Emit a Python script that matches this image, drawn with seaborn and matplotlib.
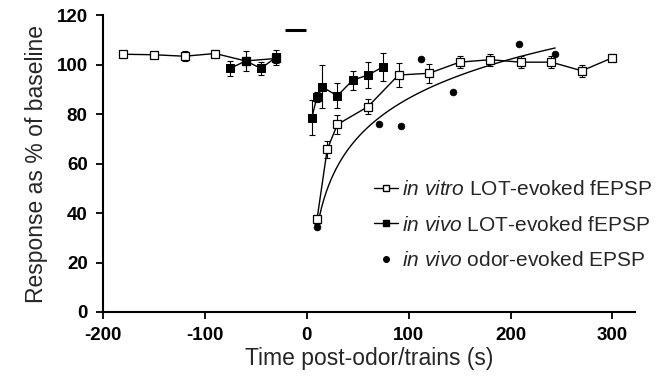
import matplotlib.pyplot as plt
import seaborn as sns
from matplotlib.lines import Line2D

# in vitro LOT-evoked fEPSP (open squares), baseline and post-train segments
vitro_pre_t = [-180, -150, -120, -90, -60, -30]
vitro_pre_r = [104.2, 104.0, 103.4, 104.5, 101.5, 102.5]
vitro_pre_e = [1.5, 1.2, 2.0, 1.5, 1.5, 2.0]
vitro_post_t = [10, 20, 30, 60, 90, 120, 150, 180, 210, 240, 270, 300]
vitro_post_r = [37.4, 65.7, 75.8, 83.0, 95.8, 96.5, 101.0, 102.0, 101.0, 101.0, 97.5, 102.8]
vitro_post_e = [2.0, 3.5, 4.0, 3.0, 5.0, 3.8, 2.5, 2.5, 2.5, 2.5, 2.5, 1.5]

# in vivo LOT-evoked fEPSP (filled squares)
vivo_pre_t = [-75, -60, -45, -30]
vivo_pre_r = [98.5, 101.5, 98.5, 103.0]
vivo_pre_e = [3.0, 4.0, 2.7, 3.0]
vivo_post_t = [5, 10, 15, 30, 45, 60, 75]
vivo_post_r = [78.6, 87.0, 91.0, 87.4, 93.7, 95.8, 99.1]
vivo_post_e = [7.0, 2.0, 8.7, 5.0, 3.8, 5.2, 5.7]

# in vivo odor-evoked EPSP (filled circles)
odor_t = [9.8, 71, 92.8, 112.4, 143.5, 207.8, 243.8]
odor_r = [34.5, 76.2, 75.3, 102.2, 89.0, 108.3, 104.5]

# odor / train stimulus bar
stim_t = [-21, -1]
stim_r = [114.2, 114.2]

labels = [r"$\mathit{in\ vitro}$ LOT-evoked fEPSP",
          r"$\mathit{in\ vivo}$ LOT-evoked fEPSP",
          r"$\mathit{in\ vivo}$ odor-evoked EPSP"]

sns.set_style("ticks")
plt.rcParams['font.family'] = ['Liberation Sans', 'DejaVu Sans']
plt.rcParams['mathtext.fontset'] = 'custom'
plt.rcParams['mathtext.rm'] = 'Liberation Sans'
plt.rcParams['mathtext.it'] = 'Liberation Sans:italic'
plt.rcParams['axes.unicode_minus'] = False

fig, ax = plt.subplots(figsize=(6.69, 3.89), dpi=100)
fig.subplots_adjust(left=0.154, right=0.949, bottom=0.198, top=0.961)

# log fit through the odor-evoked points
sns.regplot(x=odor_t, y=odor_r, logx=True, ci=None, scatter=False, ax=ax,
            line_kws=dict(color='k', lw=1.0))

for t, r, e in [(vitro_pre_t, vitro_pre_r, vitro_pre_e),
                (vitro_post_t, vitro_post_r, vitro_post_e)]:
    ax.errorbar(t, r, yerr=e, fmt='none', ecolor='k', elinewidth=0.8, capsize=2.5, capthick=0.8)
    sns.lineplot(x=t, y=r, ax=ax, color='k', lw=1.0, marker='s', markersize=6,
                 markerfacecolor='white', markeredgecolor='k', markeredgewidth=0.9)

for t, r, e in [(vivo_pre_t, vivo_pre_r, vivo_pre_e),
                (vivo_post_t, vivo_post_r, vivo_post_e)]:
    ax.errorbar(t, r, yerr=e, fmt='none', ecolor='k', elinewidth=0.8, capsize=2.5, capthick=0.8)
    sns.lineplot(x=t, y=r, ax=ax, color='k', lw=1.0, marker='s', markersize=6,
                 markerfacecolor='k', markeredgecolor='k')

sns.scatterplot(x=odor_t, y=odor_r, ax=ax, color='k', s=25, edgecolor='k', zorder=4)

ax.plot(stim_t, stim_r, color='k', lw=2.2, solid_capstyle='butt', clip_on=False)

ax.set_xlim(-200, 322)
ax.set_ylim(0, 120)
ax.set_xticks([-200, -100, 0, 100, 200, 300])
ax.set_yticks([0, 20, 40, 60, 80, 100, 120])
ax.tick_params(direction='out', length=5, width=1.3, labelsize=13.5, pad=6, colors='k')
for lab in ax.get_xticklabels() + ax.get_yticklabels():
    lab.set_fontweight('bold')
for s in ['left', 'bottom']:
    ax.spines[s].set_linewidth(1.5)
    ax.spines[s].set_color('k')
sns.despine(ax=ax)

ax.set_xlabel("Time post-odor/trains (s)", fontsize=16.5, labelpad=2)
ax.set_ylabel("Response as % of baseline", fontsize=16.5, labelpad=6)

handles = [Line2D([], [], color='k', lw=1.0, marker='s', markersize=5,
                  markerfacecolor='white', markeredgecolor='k'),
           Line2D([], [], color='k', lw=1.0, marker='s', markersize=5,
                  markerfacecolor='k', markeredgecolor='k'),
           Line2D([], [], color='k', lw=0, marker='o', markersize=4)]
ax.legend(handles, labels, loc='upper left', bbox_to_anchor=(374 / 669, 1 - 180 / 389),
          bbox_transform=fig.transFigure, frameon=False, fontsize=15,
          handlelength=1.15, handletextpad=0.2, labelspacing=0.8,
          borderpad=0, borderaxespad=0)

fig.savefig("out.png", dpi=100)
